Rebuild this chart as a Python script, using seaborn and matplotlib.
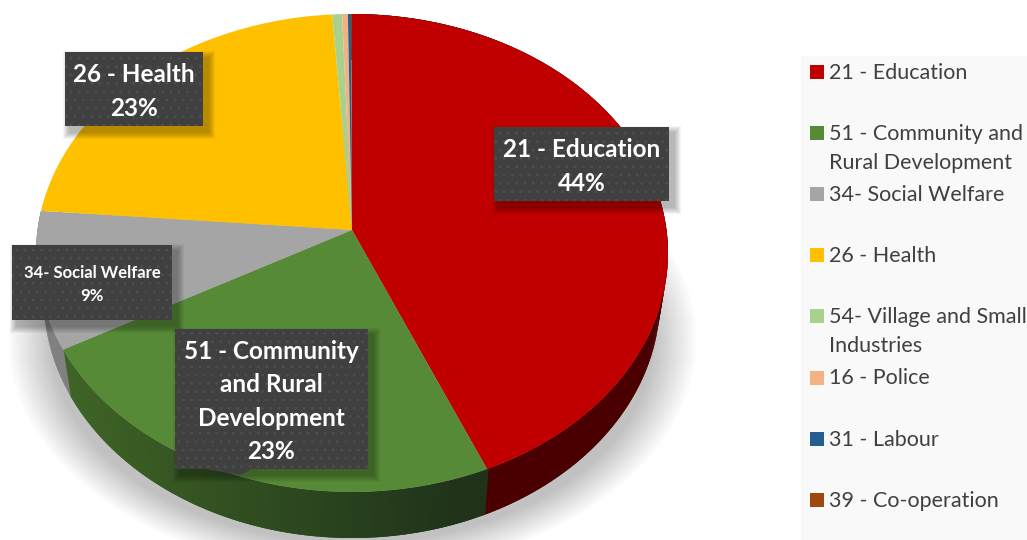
#!/usr/bin/env python3
"""Budget share pie with a tilted 3D look, drawn in pixel-like axes"""

import numpy as np
import matplotlib
matplotlib.use("Agg")
import matplotlib.pyplot as plt
from matplotlib.patches import Rectangle
from matplotlib.transforms import Transform
import seaborn as sns

# data
categories = ["21 - Education", "51 - Community and\nRural Development", "34- Social Welfare",
              "26 - Health", "54- Village and Small\nIndustries", "16 - Police",
              "31 - Labour", "39 - Co-operation"]
shares = [43.6, 23.4, 9.3, 22.6, 0.55, 0.32, 0.18, 0.05]
colors = ["#C00000", "#578A37", "#A5A5A5", "#FFC000", "#A9D18E", "#F4B183", "#255E91", "#9E480E"]
callouts = ["21 - Education\n44%", "51 - Community\nand Rural\nDevelopment\n23%",
            "34- Social Welfare\n9%", "26 - Health\n23%"]

# side wall colours, left to right
wall_colors = {0: ("#4a0000", "#4a0000"), 1: ("#3f6526", "#20331a"), 2: ("#808080", "#808080")}

WIDTH, HEIGHT = 1027, 540
APEX_X, APEX_Y = 352, 230
TILT = 0.0962
SCALE_X, SCALE_Y = 314.5, 236.8
WALL_DEPTH = 46
WALL_SHRINK = 0.975


class TiltTransform(Transform):
    """Maps the unit pie disc to the tilted disc in pixel coordinates"""
    input_dims = 2
    output_dims = 2
    is_affine = False

    def __init__(self, shrink=1.0, drop=0.0):
        super().__init__()
        self.shrink = shrink
        self.drop = drop

    def transform_non_affine(self, values):
        values = np.asarray(values, dtype=float)
        w = 1 + TILT * values[:, 1]
        px = APEX_X + self.shrink * SCALE_X * values[:, 0] / w
        py = APEX_Y + self.drop - SCALE_Y * values[:, 1] / w
        return np.column_stack([px, py])


def draw_shadow(ax):
    """Soft ground shadow under the pie"""
    yy, xx = np.mgrid[0:HEIGHT, 0:WIDTH]
    dist = np.sqrt(((xx - 352) / 345) ** 2 + ((yy - 340) / 232) ** 2)
    alpha = np.clip((1 - dist) / 0.13, 0, 1)
    img = np.zeros((HEIGHT, WIDTH, 4))
    img[..., :3] = 0.76
    img[..., 3] = alpha
    ax.imshow(img, extent=(0, WIDTH, HEIGHT, 0), aspect="auto", zorder=1, interpolation="bilinear")


def draw_walls(ax, wedges):
    """Extruded rim below the front half of the pie, taken from the wedge angles"""
    top = TiltTransform()
    bottom = TiltTransform(WALL_SHRINK, WALL_DEPTH)
    for i, wedge in enumerate(wedges):
        if i not in wall_colors:
            continue
        left = np.array(matplotlib.colors.to_rgb(wall_colors[i][0]))
        right = np.array(matplotlib.colors.to_rgb(wall_colors[i][1]))
        steps = np.arange(wedge.theta1, wedge.theta2, 0.5).tolist() + [wedge.theta2]
        for a0, a1 in zip(steps[:-1], steps[1:]):
            # overlap each strip into the next one so no seams show
            rad = np.radians([a0 - 0.3, a1 + 0.3])
            rim = np.column_stack([np.cos(rad), np.sin(rad)])
            upper = top.transform_non_affine(rim)
            lower = bottom.transform_non_affine(rim)[::-1]
            quad = np.vstack([upper, lower])
            frac = np.clip((quad[:, 0].mean() - 60) / 400, 0, 1)
            shade = left + (right - left) * frac
            ax.fill(quad[:, 0], quad[:, 1], facecolor=shade, edgecolor="none", lw=0, zorder=2)


def draw_callout(ax, x0, y0, x1, y1, text, size, spacing, nudge):
    """Dark dotted label box with a soft shadow"""
    for grow in range(7, 0, -1):
        ax.add_patch(Rectangle((x0 + 5 - grow, y0 + 6 - grow), x1 - x0 + 2 * grow, y1 - y0 + 2 * grow,
                               fc="black", ec="none", alpha=0.045, zorder=4))
    ax.add_patch(Rectangle((x0, y0), x1 - x0, y1 - y0, fc="#404040", ec="#4E4E4E",
                           lw=0, hatch="..", zorder=5))
    ax.text((x0 + x1) / 2, (y0 + y1) / 2 + nudge, text, color="white", fontsize=size, fontweight="bold",
            ha="center", va="center", linespacing=spacing, zorder=6)


def draw_legend(ax):
    """Legend panel at the right, clipped by the figure edge"""
    ax.add_patch(Rectangle((801, 56), WIDTH - 801, HEIGHT - 56, fc="#F9F9F9", ec="none", zorder=3))
    for i, (label, color) in enumerate(zip(categories, colors)):
        y = 72 + 61.1 * i
        ax.add_patch(Rectangle((810, y - 7), 14, 14, fc=color, ec="none", zorder=4))
        for j, line in enumerate(label.split("\n")):
            ax.text(829, y + 1 + 29 * j, line, color="#404040", fontsize=15.5, va="center", zorder=4)


def main():
    sns.set_theme(style="white")
    plt.rcParams["font.family"] = ["Lato", "DejaVu Sans"]
    plt.rcParams["hatch.linewidth"] = 0.8

    fig, ax = plt.subplots(figsize=(WIDTH / 100, HEIGHT / 100), dpi=100)
    fig.subplots_adjust(0, 0, 1, 1)

    wedges, _ = ax.pie(shares, colors=sns.color_palette(colors), startangle=90,
                       counterclock=False, radius=1, wedgeprops={"linewidth": 0})
    tilt = TiltTransform() + ax.transData
    for wedge in wedges:
        wedge.set_transform(tilt)
        wedge.set_zorder(3)

    draw_shadow(ax)
    draw_walls(ax, wedges)

    draw_callout(ax, 494, 127, 669, 201, callouts[0], 17.5, 1.55, 2.5)
    draw_callout(ax, 174.5, 329, 368, 469, callouts[1], 17.5, 1.55, 2.5)
    draw_callout(ax, 12, 245, 172, 320, callouts[2], 12, 1.6, 2)
    draw_callout(ax, 65, 52, 203, 126, callouts[3], 17.5, 1.55, 2.5)
    # small pointer under the community callout
    ax.fill([205, 240, 252], [469, 475, 469], facecolor="#404040", edgecolor="none", zorder=5)
    draw_legend(ax)

    ax.set_aspect("auto")
    ax.set_xlim(0, WIDTH)
    ax.set_ylim(HEIGHT, 0)
    ax.set_axis_off()
    fig.savefig("out.png", dpi=100)


if __name__ == "__main__":
    main()
